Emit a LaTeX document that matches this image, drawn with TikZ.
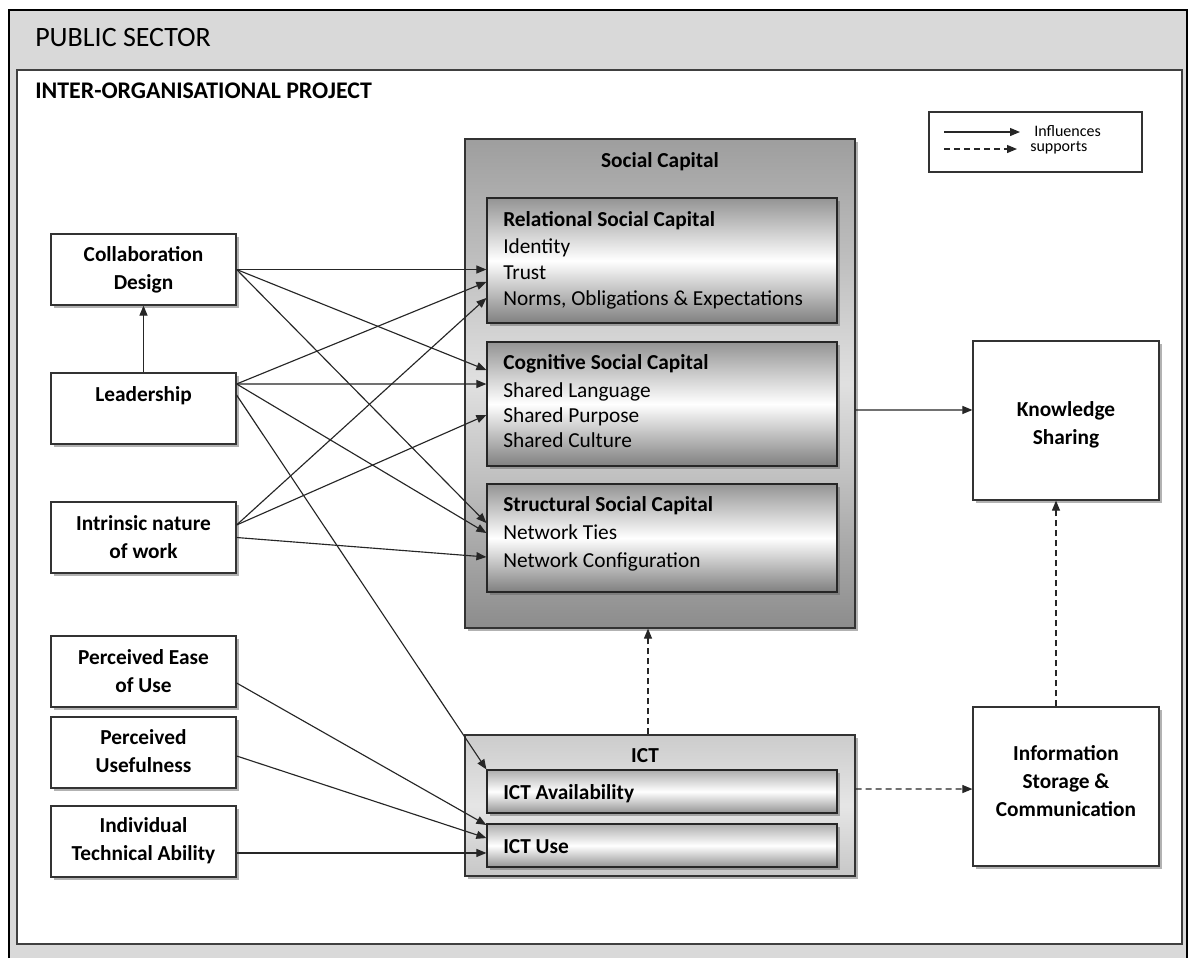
\documentclass[tikz,border=0pt]{standalone}
\usepackage{fontspec}
\setmainfont{Carlito}
\usetikzlibrary{arrows.meta,shadows,fit,calc}
\begin{document}
\begin{tikzpicture}[x=0.75pt,y=-0.75pt,
  shad/.style={drop shadow={shadow xshift=2pt,shadow yshift=-2pt,fill=black!60,opacity=0.5}},
  plainbox/.style={draw=black!80,line width=0.9pt,fill=white,shad,inner sep=0pt},
  boxtext/.style={inner sep=0pt,align=center,font=\bfseries\fontsize{16}{21}\selectfont},
  groupbox/.style={draw=black!80,line width=0.9pt,inner sep=0pt,shad,top color=black!38,bottom color=black!45,middle color=black!12},
  subbox/.style={draw=black!85,line width=0.9pt,inner sep=0pt,shad,top color=black!42,bottom color=black!50,middle color=white},
  ictbox/.style={draw=black!80,line width=0.9pt,inner sep=0pt,shad,top color=black!20,bottom color=black!22,middle color=black!10},
  ictsub/.style={draw=black!85,line width=0.9pt,inner sep=0pt,shad,top color=black!32,bottom color=black!42,middle color=white},
  ttl/.style={font=\bfseries\fontsize{16}{19}\selectfont,inner sep=0pt,anchor=base west},
  itm/.style={font=\fontsize{16}{19}\selectfont,inner sep=0pt,anchor=base west},
  lgtext/.style={font=\fontsize{12}{14}\selectfont,inner sep=0pt,anchor=west},
  infl/.style={draw=black!85,line width=0.85pt,-{Triangle[length=7.5pt,width=6pt]}},
  supp/.style={infl,dash pattern=on 4.5pt off 3pt}]
\useasboundingbox (0,0) rectangle (1192,958);
% public sector frame
\fill[black!15] (9,10) rectangle (1187,958);
\draw[line width=1.5pt] (9,958) -- (9,10) -- (1187,10) -- (1187,958);
\node[anchor=west,inner sep=0pt,font=\fontsize{21}{25}\selectfont] (pub) at (35,38) {PUBLIC SECTOR};
% project frame
\draw[draw=black!75,line width=0.9pt,fill=white] (17,70) rectangle (1182,944);
\node[anchor=west,inner sep=0pt,font=\bfseries\fontsize{17.9}{21}\selectfont] (proj) at (35,91) {INTER-ORGANISATIONAL PROJECT};
% legend
\node[draw=black!80,line width=0.9pt,inner sep=0pt,fit={(929,112) (1142,172)}] (legend) {};
\coordinate (lga) at (944,132); \coordinate (lgb) at (1020,132);
\coordinate (lgc) at (944,149); \coordinate (lgd) at (1017,149);
\draw[infl] (lga) -- (lgb);
\draw[supp] (lgc) -- (lgd);
\node[lgtext] (lgt1) at (1034,131) {Influences};
\node[lgtext] (lgt2) at (1030,148) {supports};
% left boxes
\node[plainbox,fit={(51,234) (236,305)}] (collab) {};
\node[boxtext] (collabt) at (collab.center) {Collaboration\\Design};
\node[plainbox,fit={(51,373) (236,444)}] (lead) {};
\node[boxtext] (leadt) at (lead.center) {Leadership\\\mbox{}};
\node[plainbox,fit={(51,502) (236,573)}] (intr) {};
\node[boxtext] (intrt) at (intr.center) {Intrinsic nature\\of work};
\node[plainbox,fit={(51,636) (236,707)}] (ease) {};
\node[boxtext] (easet) at (ease.center) {Perceived Ease\\of Use};
\node[plainbox,fit={(51,717) (236,788)}] (useful) {};
\node[boxtext] (usefult) at ([yshift=1pt]useful.center) {Perceived\\Usefulness};
\node[plainbox,fit={(51,806) (236,877)}] (indiv) {};
\node[boxtext] (indivt) at ([yshift=0.5pt]indiv.center) {Individual\\Technical Ability};
% social capital
\node[groupbox,fit={(465,139) (855,628)}] (social) {};
\node[font=\bfseries\fontsize{16}{19}\selectfont,inner sep=0pt] (sct) at (660,162) {Social Capital};
\node[subbox,fit={(487,198) (837,323)}] (rel) {};
\node[ttl] (relt) at (503,226) {Relational Social Capital};
\node[itm] (rel1) at (503,253) {Identity};
\node[itm] (rel2) at (503,279) {Trust};
\node[itm] (rel3) at (503,305) {Norms, Obligations \& Expectations};
\node[subbox,fit={(487,342) (837,466)}] (cog) {};
\node[ttl] (cogt) at (503,369) {Cognitive Social Capital};
\node[itm] (cog1) at (503,397) {Shared Language};
\node[itm] (cog2) at (503,422) {Shared Purpose};
\node[itm] (cog3) at (503,447) {Shared Culture};
\node[subbox,fit={(487,484) (837,592)}] (str) {};
\node[ttl] (strt) at (503,511) {Structural Social Capital};
\node[itm] (str1) at (503,539) {Network Ties};
\node[itm] (str2) at (503,567) {Network Configuration};
% ICT
\node[ictbox,fit={(465,735) (855,876)}] (ict) {};
\node[font=\bfseries\fontsize{16}{19}\selectfont,inner sep=0pt,anchor=base] (ictt) at (645,762) {ICT};
\node[ictsub,fit={(487,770) (837,813)}] (avail) {};
\node[ttl] (availt) at (503,799) {ICT Availability};
\node[ictsub,fit={(487,824) (837,867)}] (use) {};
\node[ttl] (uset) at (503,853) {ICT Use};
% right boxes
\node[plainbox,fit={(973,341) (1159,500)}] (ks) {};
\node[boxtext] (kst) at ([yshift=-3.4pt]ks.center) {Knowledge\\Sharing};
\node[plainbox,fit={(973,707) (1159,866)}] (info) {};
\node[boxtext] (infot) at ([yshift=3.75pt]info.center) {Information\\Storage \&\\Communication};
% connectors
\draw[infl] (lead.north) -- (collab.south);
\draw[infl] (collab.east) -- ([yshift=-6.75pt]rel.west);
\draw[infl] (collab.east) -- ([yshift=25.5pt]cog.west);
\draw[infl] (collab.east) -- ([yshift=11.25pt]str.west);
\draw[infl] ([yshift=18.4pt]lead.east) -- ([yshift=-16.1pt]rel.west);
\draw[infl] ([yshift=18.4pt]lead.east) -- ([yshift=15pt]cog.west);
\draw[infl] ([yshift=18.4pt]lead.east) -- ([yshift=3.75pt]str.west);
\draw[infl] ([yshift=10.1pt]lead.east) -- (avail.north west);
\draw[infl] ([yshift=9.4pt]intr.east) -- ([yshift=-28.1pt]rel.west);
\draw[infl] ([yshift=9.4pt]intr.east) -- ([yshift=-8.25pt]cog.west);
\draw[infl] (intr.east) -- ([yshift=-14.25pt]str.west);
\draw[infl] ([yshift=-8.6pt]ease.east) -- ([yshift=15.4pt]use.west);
\draw[infl] ([yshift=-2.6pt]useful.east) -- ([yshift=5.6pt]use.west);
\draw[infl] ([yshift=-8.6pt]indiv.east) -- ([yshift=-5.6pt]use.west);
\draw[infl] ([yshift=-19.9pt]social.east) -- ([yshift=7.9pt]ks.west);
\draw[supp] ([xshift=-9pt]ict.north) -- ([xshift=-9pt]social.south);
\draw[supp] ([yshift=12.4pt]ict.east) -- ([yshift=-1.9pt]info.west);
\draw[supp] ([xshift=-7.5pt]info.north) -- ([xshift=-7.5pt]ks.south);
\end{tikzpicture}
\end{document}
